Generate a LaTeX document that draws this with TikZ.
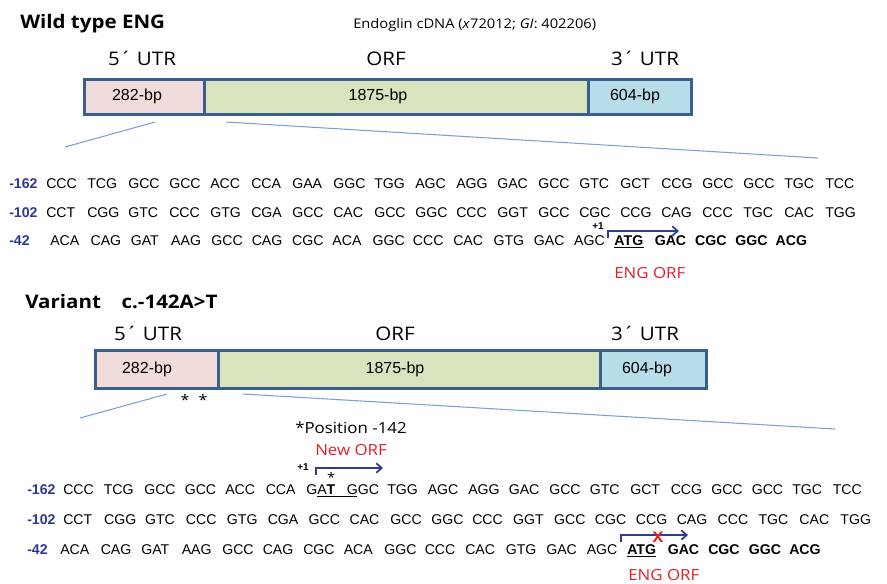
\documentclass[tikz,border=0pt]{standalone}
\usepackage{fontspec}
\setmainfont{Liberation Sans}
\newfontfamily\comic[FakeStretch=1.1]{Open Sans}
\usetikzlibrary{arrows.meta}
\definecolor{numblue}{HTML}{2B3990}
\definecolor{arrblue}{HTML}{2E3C96}
\definecolor{orfred}{HTML}{E0202A}
\definecolor{zoomln}{HTML}{7F9FD3}
\definecolor{boxln}{HTML}{3A5F8F}
\definecolor{utrpink}{HTML}{F2DCDB}
\definecolor{orfgreen}{HTML}{D7E4BD}
\definecolor{utrblue}{HTML}{B7DEE8}
\begin{document}
\begin{tikzpicture}[x=0.75pt,y=-0.75pt,
  seq/.style={font=\fontsize{10.6}{12}\selectfont, anchor=base west, inner sep=0pt},
  bseq/.style={font=\fontsize{10.6}{12}\selectfont\bfseries, anchor=base west, inner sep=0pt},
  num/.style={font=\fontsize{10.6}{12}\selectfont\bfseries, text=numblue, anchor=base west, inner sep=0pt},
  plusone/.style={font=\fontsize{7.5}{9}\selectfont\bfseries, anchor=base west, inner sep=0pt},
  title/.style={font=\comic\bfseries\fontsize{14}{16}\selectfont, anchor=base west, inner sep=0pt},
  region/.style={font=\comic\fontsize{14}{16}\selectfont, anchor=base, inner sep=0pt},
  note/.style={font=\comic\fontsize{11.5}{13}\selectfont, anchor=base west, inner sep=0pt},
  rednote/.style={note, text=orfred},
  bptext/.style={font=\fontsize{12}{14}\selectfont, anchor=base, inner sep=0pt},
  seg/.style={draw=boxln, line width=1.9pt, anchor=north west, inner sep=0pt},
  zoomline/.style={draw=zoomln, line width=0.8pt},
  orfarrow/.style={draw=arrblue, line width=1.3pt, -{Straight Barb[length=4pt,width=7pt]}},
  star/.style={font=\comic\fontsize{11}{13}\selectfont, anchor=base, inner sep=0pt}
]
\useasboundingbox (0,0) rectangle (887,583);

% ---------------- Wild type ----------------
\node[title] (wtitle) at (20,28) {Wild type ENG};
\node[font=\comic\fontsize{10}{12}\selectfont, anchor=base west, inner sep=0pt] (wsrc) at (353,28) {Endoglin cDNA (\textit{x}72012; \textit{GI}: 402206)};

\node[region] (w5l) at (142,65) {5´ UTR};
\node[region] (worfl) at (386,65) {ORF};
\node[region] (w3l) at (645,65) {3´ UTR};

\node[seg, fill=utrpink, minimum width=90pt, minimum height=26.25pt] (w5) at (83,78) {};
\node[seg, fill=orfgreen, minimum width=288pt, minimum height=26.25pt] (worf) at (203,78) {};
\node[seg, fill=utrblue, minimum width=77.25pt, minimum height=26.25pt] (w3) at (587,78) {};
\node[bptext] (w5t) at (137,100) {282-bp};
\node[bptext] (worft) at (378,100) {1875-bp};
\node[bptext] (w3t) at (635,100) {604-bp};

\coordinate (wz1a) at (155,122); \coordinate (wz1b) at (65,147);
\coordinate (wz2a) at (226,122); \coordinate (wz2b) at (818,158);
\draw[zoomline] (wz1a) -- (wz1b);
\draw[zoomline] (wz2a) -- (wz2b);

\node[num] (wn1) at (9,188) {-162};
\node[num] (wn2) at (9,217) {-102};
\node[num] (wn3) at (9,245) {-42};

\foreach \c [count=\i from 0] in {CCC,TCG,GCC,GCC,ACC,CCA,GAA,GGC,TGG,AGC,AGG,GAC,GCC,GTC,GCT,CCG,GCC,GCC,TGC,TCC}
  \node[seq] (wa\i) at ({46+\i*41},188) {\c};
\foreach \c [count=\i from 0] in {CCT,CGG,GTC,CCC,GTG,CGA,GCC,CAC,GCC,GGC,CCC,GGT,GCC,CGC,CCG,CAG,CCC,TGC,CAC,TGG}
  \node[seq] (wb\i) at ({46+\i*41},217) {\c};
\foreach \c [count=\i from 0] in {ACA,CAG,GAT,AAG,GCC,CAG,CGC,ACA,GGC,CCC,CAC,GTG,GAC,AGC}
  \node[seq] (wc\i) at ({50+\i*40.3},245) {\c};
\foreach \c [count=\i from 14] in {ATG,GAC,CGC,GGC,ACG}
  \node[bseq] (wc\i) at ({50+\i*40.3},245) {\c};
\draw[line width=0.9pt] ([yshift=-1.7pt]wc14.base west) -- ([yshift=-1.7pt]wc14.base east);

\node[plusone] (wp1) at (592,229.5) {+1};
\coordinate (warr0) at (608,238); \coordinate (warr1) at (608,231); \coordinate (warr2) at (679,231);
\draw[orfarrow] (warr0) -- (warr1) -- (warr2);
\node[rednote] (weng) at (614,278) {ENG ORF};

% ---------------- Variant ----------------
\node[title] (vtitle) at (25,308) {Variant\hspace{1.1em}c.-142A>T};

\node[region] (v5l) at (148,340) {5´ UTR};
\node[region] (vorfl) at (395,340) {ORF};
\node[region] (v3l) at (645,340) {3´ UTR};

\node[seg, fill=utrpink, minimum width=92.25pt, minimum height=28.5pt] (v5) at (94,349) {};
\node[seg, fill=orfgreen, minimum width=286.5pt, minimum height=28.5pt] (vorf) at (217,349) {};
\node[seg, fill=utrblue, minimum width=79.5pt, minimum height=28.5pt] (v3) at (599,349) {};
\node[bptext] (v5t) at (147,373) {282-bp};
\node[bptext] (vorft) at (395,373) {1875-bp};
\node[bptext] (v3t) at (647,373) {604-bp};

\node[star] (vs1) at (185,405) {*};
\node[star] (vs2) at (203,405) {*};

\coordinate (vz1a) at (167,394); \coordinate (vz1b) at (80,418);
\coordinate (vz2a) at (243,394); \coordinate (vz2b) at (835,429);
\draw[zoomline] (vz1a) -- (vz1b);
\draw[zoomline] (vz2a) -- (vz2b);

\node[note] (vpos) at (295,433) {*Position -142};
\node[rednote] (vnew) at (315,455) {New ORF};

\node[num] (vn1) at (27,494) {-162};
\node[num] (vn2) at (27,524) {-102};
\node[num] (vn3) at (27,554) {-42};

\foreach \c [count=\i from 0] in {CCC,TCG,GCC,GCC,ACC,CCA,GA\textbf{T},GGC,TGG,AGC,AGG,GAC,GCC,GTC,GCT,CCG,GCC,GCC,TGC,TCC}
  \node[seq] (va\i) at ({63+\i*40.5},494) {\c};
\draw[line width=0.6pt] ([xshift=8.2pt,yshift=-1.6pt]va6.base west) -- ([xshift=8.2pt,yshift=-1.6pt]va7.base west);
\node[star, font=\comic\fontsize{10}{12}\selectfont] (vst) at ([xshift=-3.3pt,yshift=9pt]va6.base east) {*};

\foreach \c [count=\i from 0] in {CCT,CGG,GTC,CCC,GTG,CGA,GCC,CAC,GCC,GGC,CCC,GGT,GCC,CGC,CCG,CAG,CCC,TGC,CAC,TGG}
  \node[seq] (vb\i) at ({63+\i*40.9},524) {\c};
\foreach \c [count=\i from 0] in {ACA,CAG,GAT,AAG,GCC,CAG,CGC,ACA,GGC,CCC,CAC,GTG,GAC,AGC}
  \node[seq] (vc\i) at ({60+\i*40.5},554) {\c};
\foreach \c [count=\i from 14] in {ATG,GAC,CGC,GGC,ACG}
  \node[bseq] (vc\i) at ({60+\i*40.5},554) {\c};
\draw[line width=0.9pt] ([yshift=-1.7pt]vc14.base west) -- ([yshift=-1.7pt]vc14.base east);

\node[plusone] (vp1) at (297,470) {+1};
\coordinate (varr0) at (316,475); \coordinate (varr1) at (316,468); \coordinate (varr2) at (383,468);
\draw[orfarrow] (varr0) -- (varr1) -- (varr2);

\coordinate (varr3) at (621,542); \coordinate (varr4) at (621,535); \coordinate (varr5) at (688,535);
\draw[orfarrow] (varr3) -- (varr4) -- (varr5);
\node[font=\comic\bfseries\fontsize{11}{13}\selectfont, text=orfred, inner sep=0pt] (vx) at (658,537) {X};
\node[rednote] (veng) at (628,580) {ENG ORF};
\end{tikzpicture}
\end{document}
